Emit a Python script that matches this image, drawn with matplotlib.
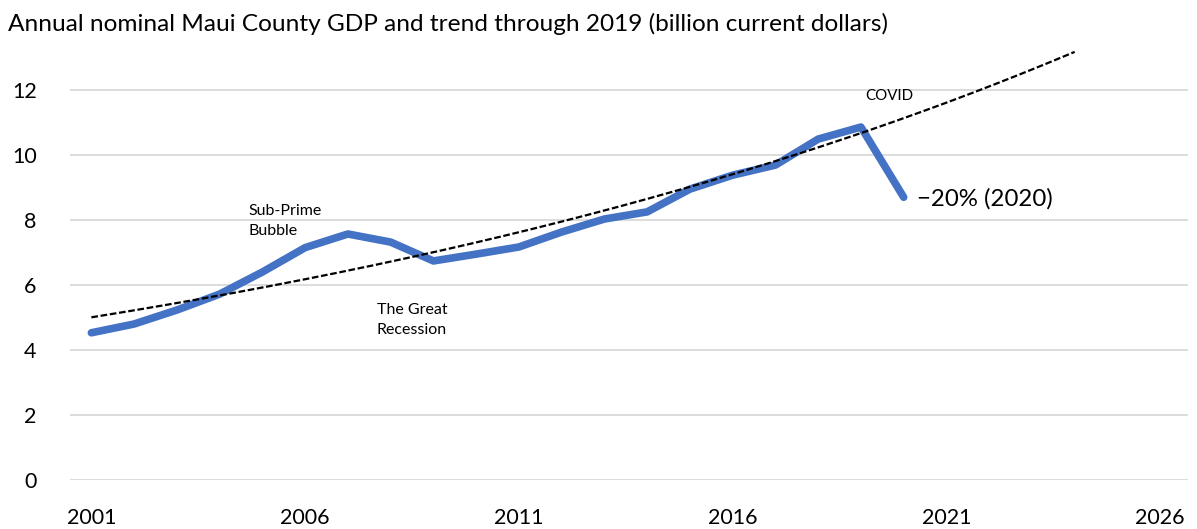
import numpy as np
import matplotlib.pyplot as plt

plt.rcParams['font.family'] = ['Lato', 'DejaVu Sans']

# Maui County nominal GDP, billion current dollars
years = np.arange(2001, 2021)
gdp = [4.53, 4.80, 5.23, 5.72, 6.40, 7.15, 7.57, 7.32, 6.74, 6.95,
       7.17, 7.63, 8.03, 8.25, 8.95, 9.38, 9.69, 10.49, 10.86, 8.70]
trend_end = 2024

# exponential trend fitted through 2019, extended forward
fit_years = years[years <= 2019]
fit_vals = np.array(gdp[:len(fit_years)])
b, a = np.polyfit(fit_years - 2001, np.log(fit_vals), 1)
trend_years = np.linspace(2001, trend_end, 200)
trend = np.exp(a + b * (trend_years - 2001))

fig = plt.figure(figsize=(11.97, 5.29), dpi=100)
ax = fig.add_axes([70/1197, 1 - 480/529, 1118/1197, 13.5*32.5/529])

ax.plot(years, gdp, color='#4472C4', lw=5.5, solid_capstyle='round', solid_joinstyle='round', zorder=3)
ax.plot(trend_years, trend, color='black', lw=1.6, ls=(0, (3, 1.2)), zorder=4)

ax.set_xlim(2000.5, 2026.65)
ax.set_ylim(0, 13.5)
ax.set_yticks(range(0, 13, 2))
ax.set_xticks(range(2001, 2027, 5))
ax.grid(axis='y', color='#d9d9d9', lw=1.3)
ax.set_axisbelow(True)
for s in ax.spines.values():
    s.set_visible(False)
ax.tick_params(length=0, labelsize=15.5, colors='black')
ax.tick_params(axis='y', pad=24)
ax.tick_params(axis='x', pad=20)

ax.text(2004.67, 8.5, 'Sub-Prime\nBubble', fontsize=11.5, va='top', linespacing=1.55)
ax.text(2007.67, 5.45, 'The Great\nRecession', fontsize=11.5, va='top', linespacing=1.55)
ax.text(2019.1, 11.8, 'COVID', fontsize=10.8, va='center')
ax.text(2020.3, 8.65, '\u221220% (2020)', fontsize=17.3, va='center')

fig.text(8/1197, 1 - 24/529, 'Annual nominal Maui County GDP and trend through 2019 (billion current dollars)',
         fontsize=17.6, va='center')

fig.savefig('out.png', dpi=100)
